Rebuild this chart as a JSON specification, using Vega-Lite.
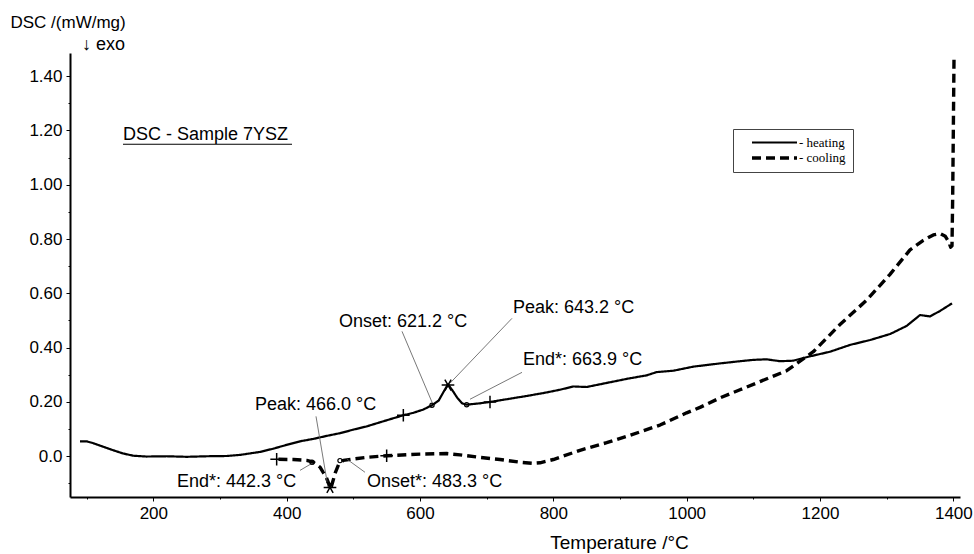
{
  "$schema": "https://vega.github.io/schema/vega-lite/v6.json",
  "width": 890,
  "height": 444,
  "autosize": "none",
  "padding": {"left": 70, "top": 53, "right": 14, "bottom": 57},
  "background": "white",
  "config": {
    "font": "Liberation Sans",
    "view": {"stroke": null},
    "axis": {
      "domainColor": "black",
      "domainWidth": 2,
      "tickColor": "black",
      "tickWidth": 1,
      "labelColor": "black",
      "labelFont": "Liberation Sans",
      "labelFontSize": 17,
      "titleColor": "black",
      "titleFont": "Liberation Sans",
      "titleFontWeight": "normal",
      "grid": false
    },
    "legend": {
      "orient": "none",
      "legendX": 663,
      "legendY": 76,
      "strokeColor": "#444",
      "padding": 7,
      "labelFont": "Liberation Serif",
      "labelFontSize": 13,
      "labelColor": "black",
      "rowPadding": 1,
      "symbolOffset": 5,
      "labelOffset": 40
    }
  },
  "datasets": {
    "curves": [
      {"series": "heating", "i": 1, "t": 90, "v": 0.055},
      {"series": "heating", "i": 2, "t": 100, "v": 0.055},
      {"series": "heating", "i": 3, "t": 110, "v": 0.048},
      {"series": "heating", "i": 4, "t": 125, "v": 0.035},
      {"series": "heating", "i": 5, "t": 140, "v": 0.022},
      {"series": "heating", "i": 6, "t": 155, "v": 0.01},
      {"series": "heating", "i": 7, "t": 170, "v": 0.002},
      {"series": "heating", "i": 8, "t": 190, "v": -0.001},
      {"series": "heating", "i": 9, "t": 220, "v": 0.0},
      {"series": "heating", "i": 10, "t": 250, "v": -0.002},
      {"series": "heating", "i": 11, "t": 280, "v": 0.0},
      {"series": "heating", "i": 12, "t": 310, "v": 0.001},
      {"series": "heating", "i": 13, "t": 330, "v": 0.005},
      {"series": "heating", "i": 14, "t": 360, "v": 0.016},
      {"series": "heating", "i": 15, "t": 380, "v": 0.028},
      {"series": "heating", "i": 16, "t": 400, "v": 0.042},
      {"series": "heating", "i": 17, "t": 420, "v": 0.055},
      {"series": "heating", "i": 18, "t": 440, "v": 0.064},
      {"series": "heating", "i": 19, "t": 460, "v": 0.075},
      {"series": "heating", "i": 20, "t": 480, "v": 0.085},
      {"series": "heating", "i": 21, "t": 500, "v": 0.098},
      {"series": "heating", "i": 22, "t": 520, "v": 0.11},
      {"series": "heating", "i": 23, "t": 540, "v": 0.125},
      {"series": "heating", "i": 24, "t": 560, "v": 0.14},
      {"series": "heating", "i": 25, "t": 575, "v": 0.151},
      {"series": "heating", "i": 26, "t": 590, "v": 0.16},
      {"series": "heating", "i": 27, "t": 605, "v": 0.172},
      {"series": "heating", "i": 28, "t": 618, "v": 0.188},
      {"series": "heating", "i": 29, "t": 628, "v": 0.205},
      {"series": "heating", "i": 30, "t": 636, "v": 0.24},
      {"series": "heating", "i": 31, "t": 642, "v": 0.265},
      {"series": "heating", "i": 32, "t": 648, "v": 0.245},
      {"series": "heating", "i": 33, "t": 656, "v": 0.215},
      {"series": "heating", "i": 34, "t": 663, "v": 0.195},
      {"series": "heating", "i": 35, "t": 670, "v": 0.19},
      {"series": "heating", "i": 36, "t": 690, "v": 0.195},
      {"series": "heating", "i": 37, "t": 705, "v": 0.2},
      {"series": "heating", "i": 38, "t": 730, "v": 0.21},
      {"series": "heating", "i": 39, "t": 760, "v": 0.222},
      {"series": "heating", "i": 40, "t": 790, "v": 0.235},
      {"series": "heating", "i": 41, "t": 810, "v": 0.245},
      {"series": "heating", "i": 42, "t": 830, "v": 0.257},
      {"series": "heating", "i": 43, "t": 850, "v": 0.255},
      {"series": "heating", "i": 44, "t": 880, "v": 0.27},
      {"series": "heating", "i": 45, "t": 910, "v": 0.285},
      {"series": "heating", "i": 46, "t": 940, "v": 0.298},
      {"series": "heating", "i": 47, "t": 955, "v": 0.31},
      {"series": "heating", "i": 48, "t": 980, "v": 0.315},
      {"series": "heating", "i": 49, "t": 1010, "v": 0.33},
      {"series": "heating", "i": 50, "t": 1050, "v": 0.342},
      {"series": "heating", "i": 51, "t": 1080, "v": 0.35},
      {"series": "heating", "i": 52, "t": 1100, "v": 0.355},
      {"series": "heating", "i": 53, "t": 1120, "v": 0.357},
      {"series": "heating", "i": 54, "t": 1140, "v": 0.35},
      {"series": "heating", "i": 55, "t": 1160, "v": 0.352},
      {"series": "heating", "i": 56, "t": 1185, "v": 0.368},
      {"series": "heating", "i": 57, "t": 1215, "v": 0.385},
      {"series": "heating", "i": 58, "t": 1245, "v": 0.41},
      {"series": "heating", "i": 59, "t": 1275, "v": 0.428},
      {"series": "heating", "i": 60, "t": 1305, "v": 0.45},
      {"series": "heating", "i": 61, "t": 1330, "v": 0.48},
      {"series": "heating", "i": 62, "t": 1350, "v": 0.52},
      {"series": "heating", "i": 63, "t": 1365, "v": 0.515},
      {"series": "heating", "i": 64, "t": 1380, "v": 0.535},
      {"series": "heating", "i": 65, "t": 1398, "v": 0.563},
      {"series": "cooling", "i": 1, "t": 1401, "v": 1.46},
      {"series": "cooling", "i": 2, "t": 1400, "v": 1.2},
      {"series": "cooling", "i": 3, "t": 1399, "v": 0.95},
      {"series": "cooling", "i": 4, "t": 1398, "v": 0.775},
      {"series": "cooling", "i": 5, "t": 1396, "v": 0.77},
      {"series": "cooling", "i": 6, "t": 1393, "v": 0.79},
      {"series": "cooling", "i": 7, "t": 1388, "v": 0.81},
      {"series": "cooling", "i": 8, "t": 1380, "v": 0.82},
      {"series": "cooling", "i": 9, "t": 1370, "v": 0.815},
      {"series": "cooling", "i": 10, "t": 1355, "v": 0.795},
      {"series": "cooling", "i": 11, "t": 1335, "v": 0.76},
      {"series": "cooling", "i": 12, "t": 1305, "v": 0.67},
      {"series": "cooling", "i": 13, "t": 1270, "v": 0.575},
      {"series": "cooling", "i": 14, "t": 1230, "v": 0.485},
      {"series": "cooling", "i": 15, "t": 1190, "v": 0.385},
      {"series": "cooling", "i": 16, "t": 1150, "v": 0.315},
      {"series": "cooling", "i": 17, "t": 1110, "v": 0.275},
      {"series": "cooling", "i": 18, "t": 1080, "v": 0.245},
      {"series": "cooling", "i": 19, "t": 1050, "v": 0.215},
      {"series": "cooling", "i": 20, "t": 1020, "v": 0.18},
      {"series": "cooling", "i": 21, "t": 1000, "v": 0.16},
      {"series": "cooling", "i": 22, "t": 960, "v": 0.115},
      {"series": "cooling", "i": 23, "t": 915, "v": 0.077},
      {"series": "cooling", "i": 24, "t": 880, "v": 0.05},
      {"series": "cooling", "i": 25, "t": 840, "v": 0.022},
      {"series": "cooling", "i": 26, "t": 800, "v": -0.012},
      {"series": "cooling", "i": 27, "t": 780, "v": -0.024},
      {"series": "cooling", "i": 28, "t": 770, "v": -0.026},
      {"series": "cooling", "i": 29, "t": 750, "v": -0.022},
      {"series": "cooling", "i": 30, "t": 720, "v": -0.012},
      {"series": "cooling", "i": 31, "t": 690, "v": -0.004},
      {"series": "cooling", "i": 32, "t": 660, "v": 0.005},
      {"series": "cooling", "i": 33, "t": 640, "v": 0.01},
      {"series": "cooling", "i": 34, "t": 600, "v": 0.008},
      {"series": "cooling", "i": 35, "t": 550, "v": 0.002},
      {"series": "cooling", "i": 36, "t": 520, "v": -0.004},
      {"series": "cooling", "i": 37, "t": 500, "v": -0.01},
      {"series": "cooling", "i": 38, "t": 485, "v": -0.015},
      {"series": "cooling", "i": 39, "t": 478, "v": -0.03},
      {"series": "cooling", "i": 40, "t": 473, "v": -0.06},
      {"series": "cooling", "i": 41, "t": 469, "v": -0.095},
      {"series": "cooling", "i": 42, "t": 466, "v": -0.12},
      {"series": "cooling", "i": 43, "t": 463, "v": -0.1},
      {"series": "cooling", "i": 44, "t": 459, "v": -0.075},
      {"series": "cooling", "i": 45, "t": 455, "v": -0.06},
      {"series": "cooling", "i": 46, "t": 450, "v": -0.04},
      {"series": "cooling", "i": 47, "t": 440, "v": -0.022},
      {"series": "cooling", "i": 48, "t": 430, "v": -0.015},
      {"series": "cooling", "i": 49, "t": 410, "v": -0.012},
      {"series": "cooling", "i": 50, "t": 385, "v": -0.011}
    ],
    "markers": [
      {"kind": "cross", "t": 575, "v": 0.151},
      {"kind": "cross", "t": 705, "v": 0.2},
      {"kind": "star", "t": 642, "v": 0.262},
      {"kind": "cross", "t": 385, "v": -0.011},
      {"kind": "cross", "t": 550, "v": 0.002},
      {"kind": "star", "t": 465, "v": -0.115}
    ],
    "rings": [
      {"t": 618, "v": 0.188},
      {"t": 670, "v": 0.19},
      {"t": 438, "v": -0.022},
      {"t": 480, "v": -0.016}
    ],
    "leaders": [
      {"t": 573, "v": 0.46, "t2": 618, "v2": 0.199},
      {"t": 645, "v": 0.269, "t2": 738, "v2": 0.508},
      {"t": 753, "v": 0.309, "t2": 675, "v2": 0.21},
      {"t": 444, "v": 0.147, "t2": 462, "v2": -0.114},
      {"t": 420, "v": -0.052, "t2": 438, "v2": -0.026},
      {"t": 517.5, "v": -0.059, "t2": 490.5, "v2": -0.011}
    ],
    "labels": [
      {"label": "Onset: 621.2 °C", "t": 478.5, "v": 0.4935},
      {"label": "Peak: 643.2 °C", "t": 739.5, "v": 0.545},
      {"label": "End*: 663.9 °C", "t": 754.5, "v": 0.354},
      {"label": "Peak: 466.0 °C", "t": 352.5, "v": 0.188},
      {"label": "End*: 442.3 °C", "t": 235.5, "v": -0.096},
      {"label": "Onset*: 483.3 °C", "t": 520.5, "v": -0.096},
      {"label": "DSC - Sample 7YSZ", "t": 154.5, "v": 1.182},
      {"label": "↓ exo", "t": 93, "v": 1.514}
    ],
    "underline": [
      {"t": 154.5, "t2": 408, "v": 1.149}
    ]
  },
  "encoding": {
    "x": {
      "field": "t",
      "type": "quantitative",
      "scale": {"domain": [75, 1410], "nice": false, "zero": false},
      "axis": {
        "title": "Temperature /°C",
        "titleFontSize": 19,
        "titleX": 549,
        "titleY": 51,
        "titleAlign": "center",
        "titleBaseline": "alphabetic",
        "values": [100, 200, 300, 400, 500, 600, 700, 800, 900, 1000, 1100, 1200, 1300, 1400],
        "labelExpr": "datum.value % 200 === 0 ? format(datum.value, 'd') : ''",
        "tickSize": {"condition": {"test": "datum.value % 200 === 0", "value": 4}, "value": 2},
        "labelPadding": 4,
        "labelFlush": false,
        "labelOverlap": false
      }
    },
    "y": {
      "field": "v",
      "type": "quantitative",
      "scale": {"domain": [-0.15, 1.485], "nice": false, "zero": false},
      "axis": {
        "title": "DSC /(mW/mg)",
        "titleFontSize": 17,
        "titleAngle": 0,
        "titleAlign": "left",
        "titleBaseline": "top",
        "titleX": -60,
        "titleY": -39,
        "values": [-0.1, 0, 0.1, 0.2, 0.3, 0.4, 0.5, 0.6, 0.7, 0.8, 0.9, 1.0, 1.1, 1.2, 1.3, 1.4],
        "labelExpr": "abs(round(datum.value * 10)) % 2 === 1 ? '' : (datum.value === 0 ? '0.0' : format(datum.value, '.2f'))",
        "tickSize": {"condition": {"test": "abs(round(datum.value * 10)) % 2 === 0", "value": 4}, "value": 2},
        "labelPadding": 4,
        "labelFlush": false,
        "labelOverlap": false
      }
    }
  },
  "layer": [
    {
      "data": {"name": "curves"},
      "mark": {"type": "line", "color": "black", "strokeCap": "butt", "strokeJoin": "round"},
      "encoding": {
        "order": {"field": "i", "type": "quantitative"},
        "strokeDash": {
          "field": "series",
          "type": "nominal",
          "scale": {"domain": ["heating", "cooling"], "range": [[1, 0], [9, 5]]},
          "legend": {
            "title": null,
            "symbolType": "M0,0H9",
            "symbolSize": 100,
            "symbolStrokeColor": "black",
            "labelExpr": "'- ' + datum.label"
          }
        },
        "strokeWidth": {
          "field": "series",
          "type": "nominal",
          "scale": {"domain": ["heating", "cooling"], "range": [2.2, 3.4]},
          "legend": {
            "title": null,
            "symbolType": "M0,0H9",
            "symbolSize": 100,
            "symbolStrokeColor": "black",
            "labelExpr": "'- ' + datum.label"
          }
        }
      }
    },
    {
      "data": {"name": "leaders"},
      "mark": {"type": "rule", "color": "#555", "strokeWidth": 0.8},
      "encoding": {
        "x2": {"field": "t2"},
        "y2": {"field": "v2"}
      }
    },
    {
      "data": {"name": "underline"},
      "mark": {"type": "rule", "color": "black", "strokeWidth": 1.2},
      "encoding": {
        "x2": {"field": "t2"}
      }
    },
    {
      "data": {"name": "markers"},
      "mark": {"type": "point", "filled": false, "color": "black", "strokeWidth": 1.5, "opacity": 1, "size": 160},
      "encoding": {
        "shape": {
          "field": "kind",
          "type": "nominal",
          "scale": {"domain": ["cross", "star"], "range": ["M-1,0H1M0,-1V1", "M-1,0H1M-0.5,-0.87L0.5,0.87M-0.5,0.87L0.5,-0.87"]},
          "legend": null
        }
      }
    },
    {
      "data": {"name": "rings"},
      "mark": {"type": "point", "filled": false, "shape": "circle", "color": "black", "strokeWidth": 1.2, "opacity": 1, "size": 18}
    },
    {
      "data": {"name": "labels"},
      "mark": {"type": "text", "align": "left", "baseline": "middle", "fontSize": 18, "font": "Liberation Sans", "color": "black"},
      "encoding": {
        "text": {"field": "label", "type": "nominal"}
      }
    }
  ]
}
